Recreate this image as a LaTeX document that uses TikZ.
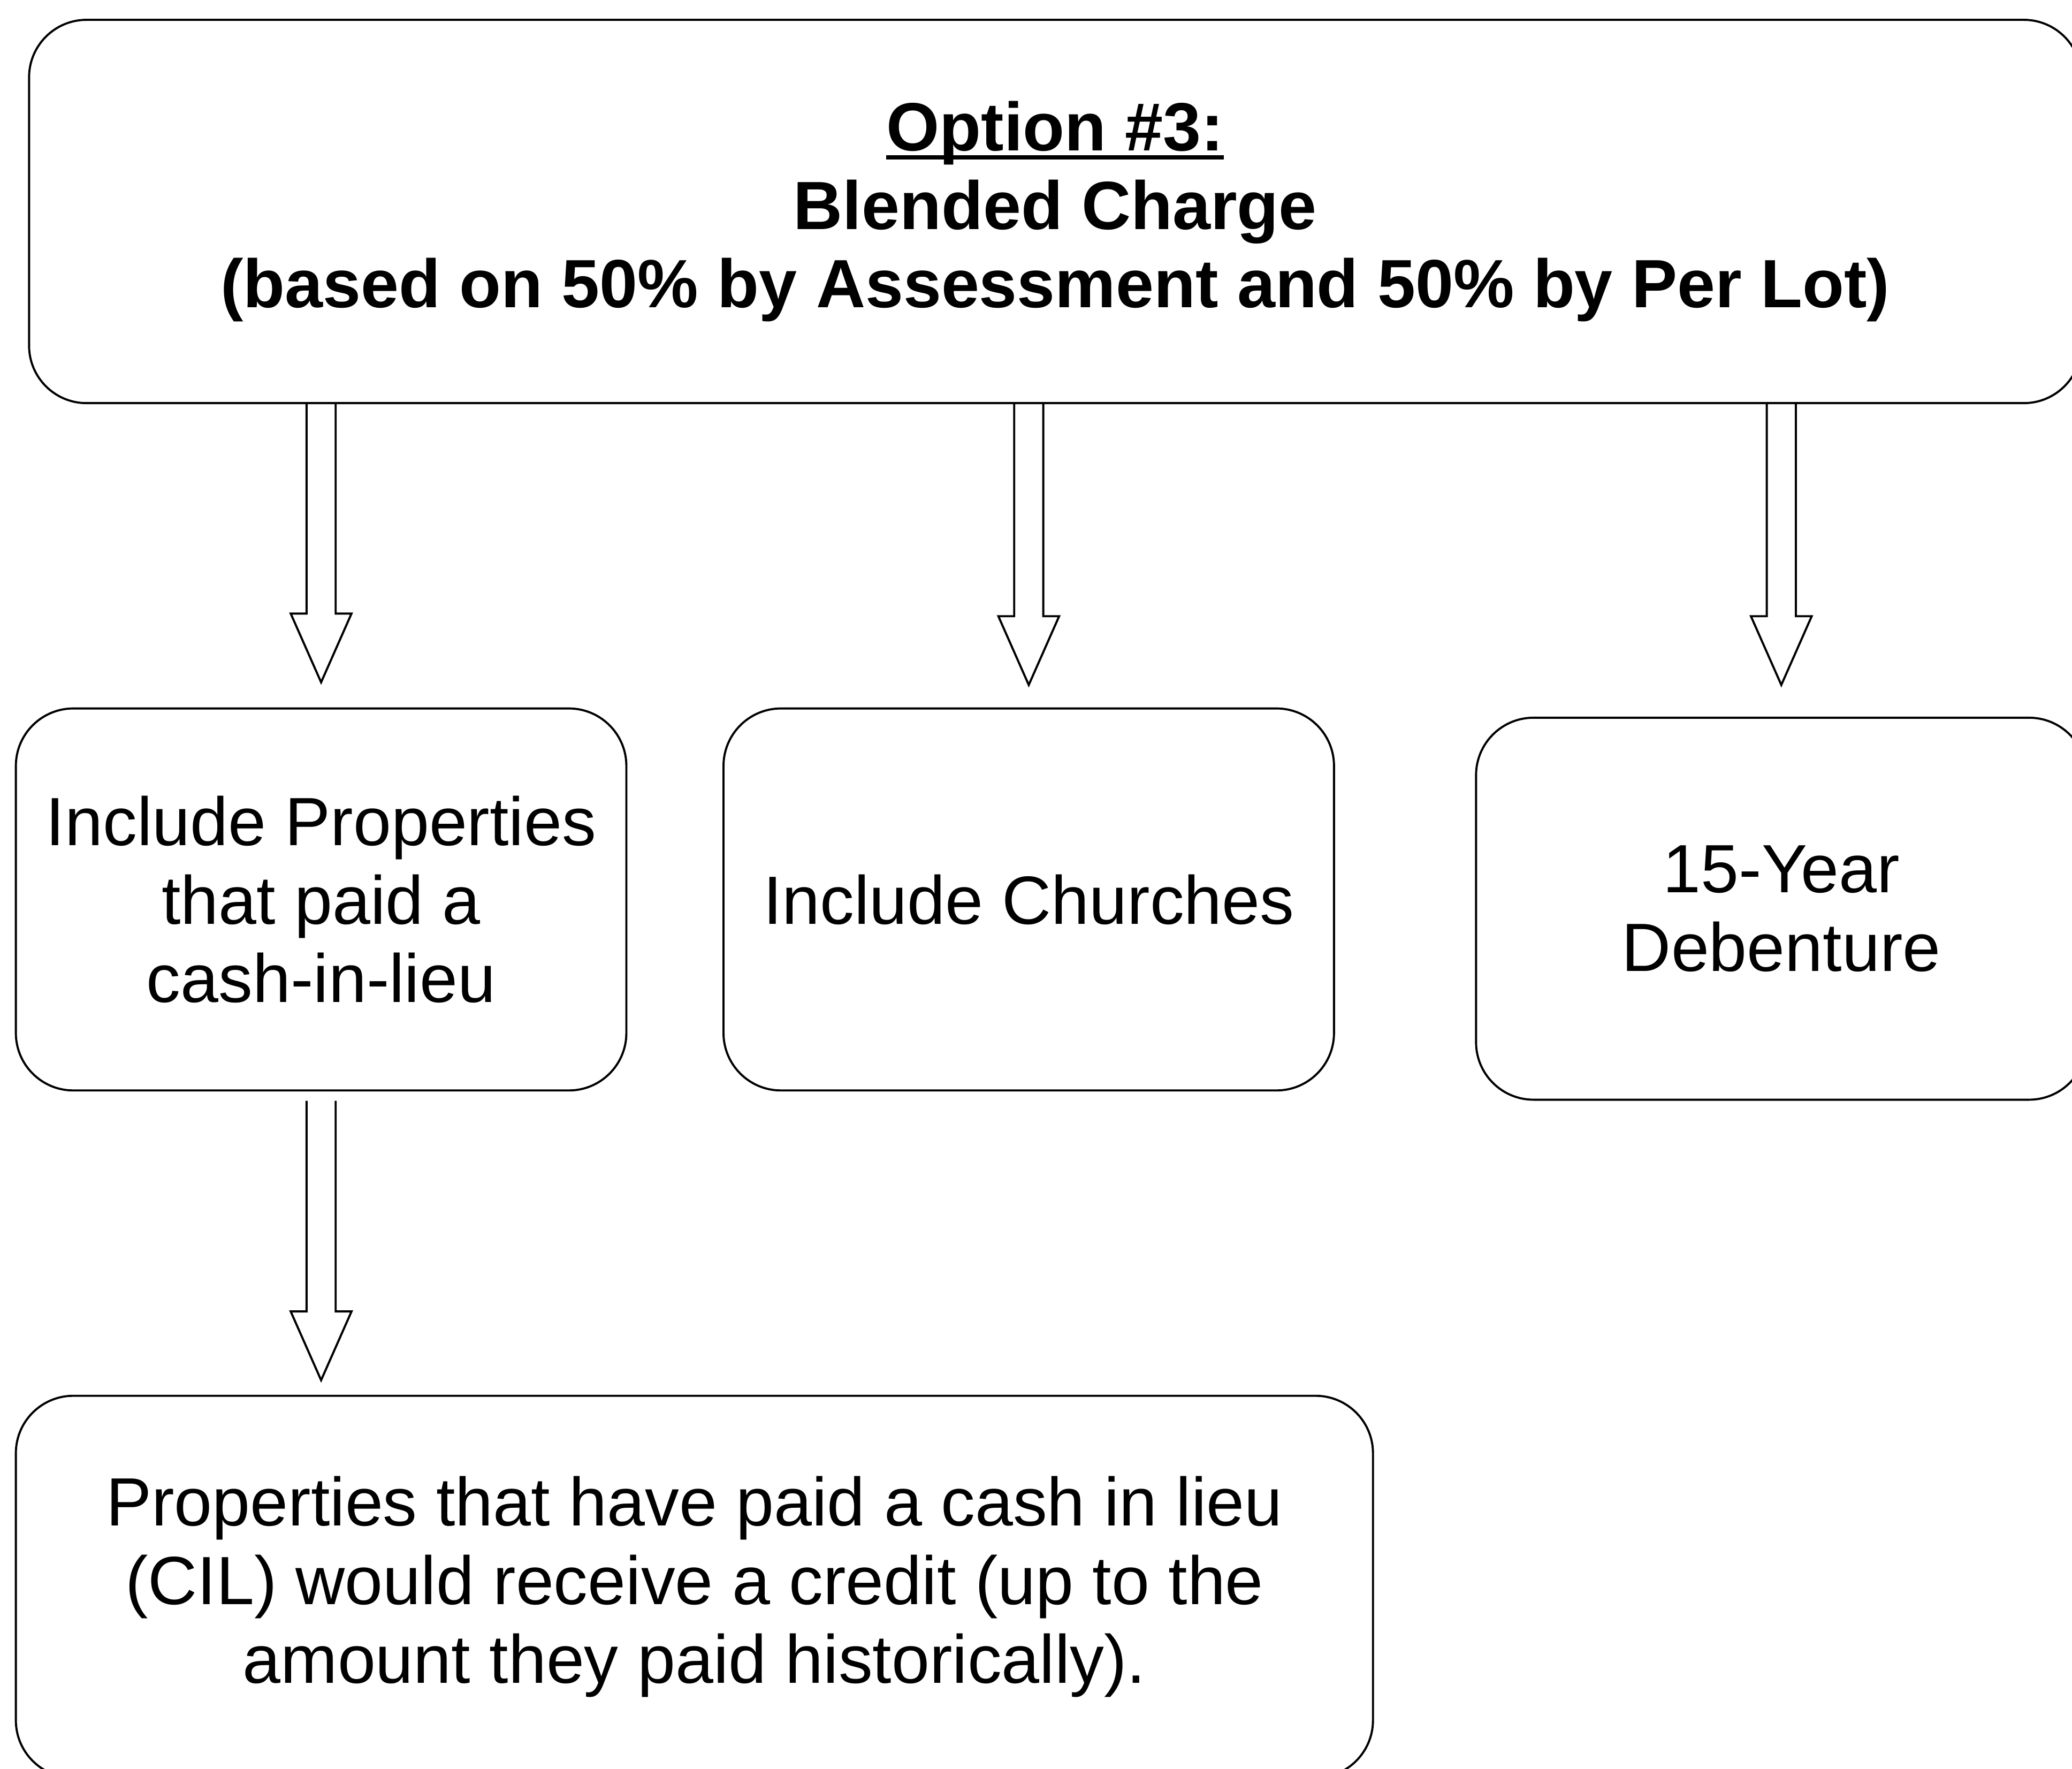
\documentclass[tikz,border=0pt]{standalone}
\usepackage{fontspec}
\setmainfont{Liberation Sans}
\usetikzlibrary{calc}

\newcommand{\blockarrow}[2]{%
	\draw[blockline] ($#1+(-0.22,0)$) -- ($#2+(-0.22,1.04)$) -- ($#2+(-0.46,1.04)$) -- #2 -- ($#2+(0.46,1.04)$) -- ($#2+(0.22,1.04)$) -- ($#1+(0.22,0)$);}
\newcommand{\optul}[1]{\setbox0\hbox{#1}\rlap{\rule[-0.13em]{\wd0}{0.065em}}\box0}

\begin{document}
\begin{tikzpicture}[
	box/.style={draw, line width=0.9pt, rounded corners=0.87cm, align=center, inner sep=0pt, minimum width=9.24cm, minimum height=5.78cm, font=\fontsize{29.4}{33.8}\selectfont},
	blockline/.style={line width=0.9pt, line join=miter}]
	\useasboundingbox (0,0) rectangle (31.36,-26.76);
	\node[box, minimum width=31.06cm, minimum height=5.8cm, font=\fontsize{29.4}{33.8}\selectfont\bfseries] (T) at (15.97,-3.2) {\optul{Option \#3:}\\Blended Charge\\(based on 50\% by Assessment and 50\% by Per Lot)};
	\node[box] (P) at (4.86,-13.61) {Include Properties\\that paid a\\cash-in-lieu};
	\node[box] (C) at (15.57,-13.61) {Include Churches};
	\node[box] (D) at (26.96,-13.75) {15-Year\\Debenture};
	\node[box, minimum width=20.54cm] (L) at (10.51,-24.01) {Properties that have paid a cash in lieu\\(CIL) would receive a credit (up to the\\amount they paid historically).};
	\path (L.north -| P.south) ++(0,0.22) coordinate (Ltip);
	\blockarrow{(T.south -| P.north)}{([yshift=0.38cm]P.north)}
	\blockarrow{(T.south -| C.north)}{([yshift=0.34cm]C.north)}
	\blockarrow{(T.south -| D.north)}{([yshift=0.48cm]D.north)}
	\blockarrow{([yshift=-0.14cm]P.south)}{(Ltip)}
\end{tikzpicture}
\end{document}
